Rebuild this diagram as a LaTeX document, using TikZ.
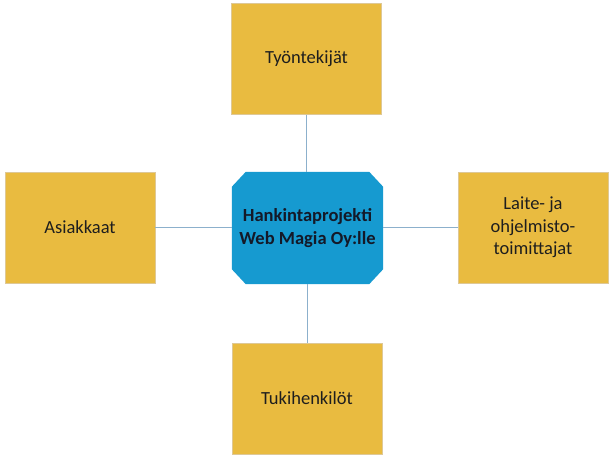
\documentclass[tikz,border=0pt]{standalone}
\usepackage{fontspec}
\setmainfont{Carlito}
\usetikzlibrary{backgrounds}
\definecolor{boxyellow}{RGB}{233,187,64}
\definecolor{boxedge}{RGB}{222,200,150}
\definecolor{hubblue}{RGB}{22,154,208}
\definecolor{linkcol}{RGB}{140,176,204}
\definecolor{txt}{RGB}{30,30,30}
\definecolor{hubtxt}{RGB}{20,25,40}
\tikzset{
  outer/.style={rectangle, fill=boxyellow, draw=boxedge, line width=0.6pt,
    minimum width=150pt, minimum height=111pt, inner sep=2pt, align=center,
    text=txt, font=\fontsize{18.5}{22.7}\selectfont},
  hub/.style={rectangle, minimum width=151pt, minimum height=112pt, inner sep=0pt, align=center,
    text=hubtxt, font=\fontsize{18.5}{22.7}\selectfont\bfseries},
  link/.style={draw=linkcol, line width=1pt}
}
\begin{document}
\begin{tikzpicture}[x=1pt,y=-1pt]
\node[hub] (c) at (307.5,228) {Hankintaprojekti\\Web Magia Oy:lle};
\begin{scope}[on background layer]
\fill[white] (0,0) rectangle (614,463);
\fill[hubblue] ([xshift=14pt]c.north west) -- ([xshift=-14pt]c.north east)
  -- ([yshift=-15pt]c.north east) -- ([yshift=15pt]c.south east)
  -- ([xshift=-14pt]c.south east) -- ([xshift=14pt]c.south west)
  -- ([yshift=15pt]c.south west) -- ([yshift=-15pt]c.north west) -- cycle;
\end{scope}
\useasboundingbox (0,0) rectangle (614,463);
\node[outer] (t) at (306.5,59) {Työntekijät};
\node[outer] (l) at (80,227.5) {Asiakkaat};
\node[outer] (r) at (533,227.5) {Laite- ja\\ohjelmisto-\\toimittajat};
\node[outer] (b) at (307,398.5) {Tukihenkilöt};
\draw[link] (t.south) -- (t.south |- c.north);
\draw[link] (b.north) -- (b.north |- c.south);
\draw[link] (l.east) -- (c.west |- l.east);
\draw[link] (r.west) -- (c.east |- r.west);
\end{tikzpicture}
\end{document}
